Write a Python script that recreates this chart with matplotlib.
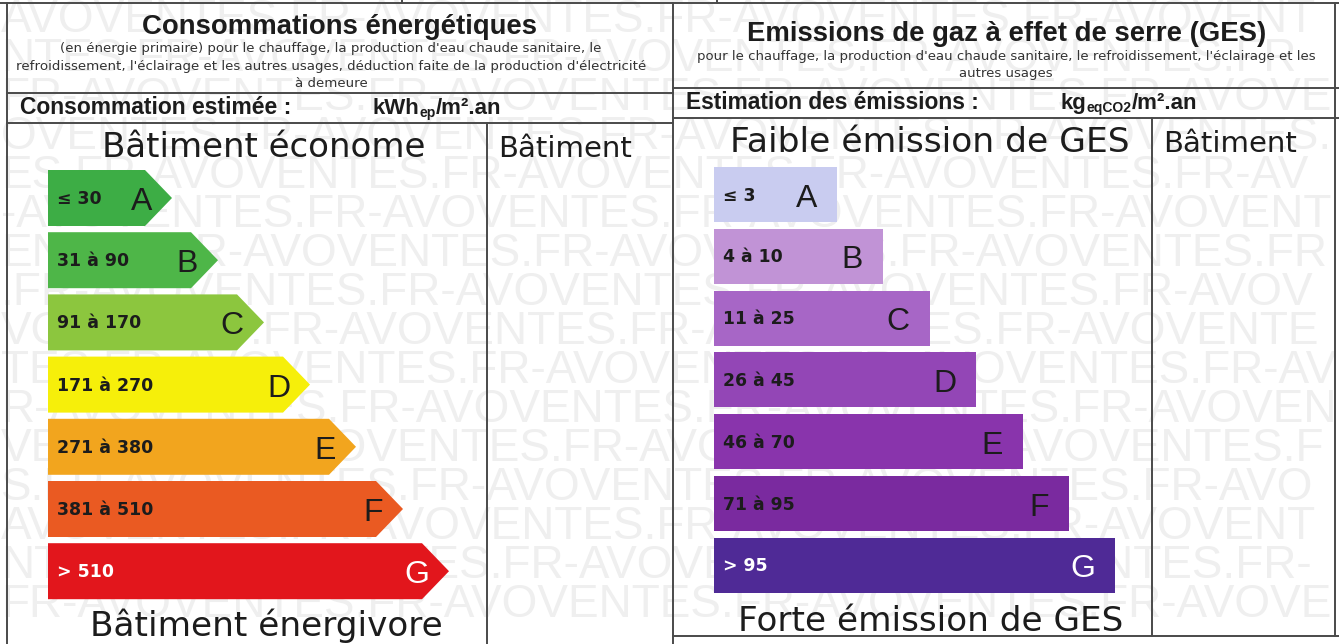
import matplotlib
matplotlib.use("Agg")
import matplotlib.pyplot as plt
from matplotlib.patches import Polygon, Rectangle

# ---------------- data ----------------
classes = ["A", "B", "C", "D", "E", "F", "G"]
energy_ranges = ["≤ 30", "31 à 90", "91 à 170", "171 à 270", "271 à 380", "381 à 510", "> 510"]
energy_lengths = [124, 170, 216, 262, 308, 355, 401]
energy_colors = ["#3dad45", "#4eb648", "#8cc63e", "#f6ef0a", "#f2a51e", "#ea5a22", "#e2161c"]

ges_ranges = ["≤ 3", "4 à 10", "11 à 25", "26 à 45", "46 à 70", "71 à 95", "> 95"]
ges_lengths = [123, 169, 216, 262, 309, 355, 401]
ges_colors = ["#c9ccf0", "#c193d6", "#a766c6", "#9346b6", "#8934ac", "#7a2a9f", "#4f2a96"]

watermark = "AVOVENTES.FR-"

W, H = 1339, 644
fig = plt.figure(figsize=(W / 100, H / 100), dpi=100)
ax = fig.add_axes([0, 0, 1, 1])
ax.set_xlim(0, W)
ax.set_ylim(H, 0)
ax.axis("off")

SANS = "Liberation Sans"
VERD = "DejaVu Sans"

fig.canvas.draw()
renderer = fig.canvas.get_renderer()
inv = ax.transData.inverted()

# ---------------- watermark ----------------
for k in range(16):
    y = 32 + 39 * k
    shift = (k * 5) % len(watermark)
    s = (watermark * 8)[shift:]
    t = ax.text(1, y, s, fontsize=33, family=SANS, color="#efefef",
                va="baseline", ha="left", zorder=0.5)
    while t.get_window_extent(renderer=renderer).x1 > W - 2:
        s = s[:-1]
        t.set_text(s)

# ---------------- frame lines ----------------
lc = "#4a4a4a"
lw = 1.4
ax.plot([0, W], [3, 3], color=lc, lw=lw, zorder=3)
ax.plot([402, 402], [0, 3], color=lc, lw=lw, zorder=3)
ax.plot([717, 717], [0, 3], color=lc, lw=lw, zorder=3)
ax.plot([7, 7], [3, H], color=lc, lw=lw, zorder=3)
ax.plot([673, 673], [3, H], color=lc, lw=lw, zorder=3)
ax.plot([1335, 1335], [3, 636], color=lc, lw=lw, zorder=3)
ax.plot([487, 487], [123, H], color=lc, lw=lw, zorder=3)
ax.plot([1152, 1152], [118, 636], color=lc, lw=lw, zorder=3)
ax.plot([7, 673], [93, 93], color=lc, lw=lw, zorder=3)
ax.plot([7, 673], [123, 123], color=lc, lw=lw, zorder=3)
ax.plot([673, W], [88, 88], color=lc, lw=lw, zorder=3)
ax.plot([673, W], [118, 118], color=lc, lw=lw, zorder=3)
ax.plot([673, W], [636, 636], color=lc, lw=lw, zorder=3)

txtc = "#1c1c1c"

# ---------------- headers ----------------
ax.text(340, 34, "Consommations énergétiques", fontsize=19.8, family=SANS,
        weight="bold", ha="center", va="baseline", color=txtc, zorder=4)
sub_left = ["(en énergie primaire) pour le chauffage, la production d'eau chaude sanitaire, le",
            "refroidissement, l'éclairage et les autres usages, déduction faite de la production d'électricité",
            "à demeure"]
for i, s in enumerate(sub_left):
    ax.text(331, 52 + 17.5 * i, s, fontsize=9.6, family=VERD, ha="center",
            va="baseline", color="#333333", zorder=4)

ax.text(1007, 41, "Emissions de gaz à effet de serre (GES)", fontsize=19.8, family=SANS,
        weight="bold", ha="center", va="baseline", color=txtc, zorder=4)
sub_right = ["pour le chauffage, la production d'eau chaude sanitaire, le refroidissement, l'éclairage et les",
             "autres usages"]
for i, s in enumerate(sub_right):
    ax.text(1006, 60 + 17 * i, s, fontsize=9.5, family=VERD, ha="center",
            va="baseline", color="#333333", zorder=4)

ax.text(20, 114, "Consommation estimée :", fontsize=16.5, family=SANS, weight="bold",
        ha="left", va="baseline", color=txtc, zorder=4)
ax.text(686, 109, "Estimation des émissions :", fontsize=16.4, family=SANS, weight="bold",
        ha="left", va="baseline", color=txtc, zorder=4)


def seq(x, y, parts):
    """parts: list of (text, size, dy)"""
    for s, size, dy in parts:
        t = ax.text(x, y + dy, s, fontsize=size, family=SANS, weight="bold",
                    ha="left", va="baseline", color=txtc, zorder=4)
        bb = t.get_window_extent(renderer=renderer)
        x = inv.transform((bb.x1, bb.y0))[0]


seq(373, 114, [("kWh", 16, 0), ("ep", 10, 3), ("/m².an", 16, 0)])
seq(1061, 109, [("kg", 16, 0), ("eqCO2", 10, 3), ("/m².an", 16, 0)])

# column headers
ax.text(264, 157, "Bâtiment économe", fontsize=24.5, family=VERD, ha="center",
        va="baseline", color=txtc, zorder=4)
ax.text(498, 157, "Bâtiment", fontsize=21, family=VERD, ha="left",
        va="baseline", color=txtc, zorder=4)
ax.text(266, 636, "Bâtiment énergivore", fontsize=24.7, family=VERD, ha="center",
        va="baseline", color=txtc, zorder=4)
ax.text(930, 152, "Faible émission de GES", fontsize=24.8, family=VERD, ha="center",
        va="baseline", color=txtc, zorder=4)
ax.text(1163, 152, "Bâtiment", fontsize=21, family=VERD, ha="left",
        va="baseline", color=txtc, zorder=4)
ax.text(931, 631, "Forte émission de GES", fontsize=24.7, family=VERD, ha="center",
        va="baseline", color=txtc, zorder=4)

# ---------------- energy arrows ----------------
x0, top0, pitch, h, tip = 48, 170, 62.2, 56, 27
for i, (cls, rng, L, c) in enumerate(zip(classes, energy_ranges, energy_lengths, energy_colors)):
    t = top0 + pitch * i
    b = t + h
    m = (t + b) / 2
    poly = Polygon([(x0, t), (x0 + L - tip, t), (x0 + L, m), (x0 + L - tip, b), (x0, b)],
                   closed=True, facecolor=c, edgecolor="none", zorder=2)
    ax.add_patch(poly)
    fc = "white" if cls == "G" else txtc
    ax.text(x0 + 9, m + 6, rng, fontsize=12.5, family=VERD, weight="bold",
            ha="left", va="baseline", color=fc, zorder=4)
    ax.text(x0 + L - 20, m + 12, cls, fontsize=23, family=SANS, ha="right",
            va="baseline", color=fc, zorder=4)

# ---------------- GES bars ----------------
gx0, gtop0, gpitch, gh = 714, 167, 61.8, 55
for i, (cls, rng, L, c) in enumerate(zip(classes, ges_ranges, ges_lengths, ges_colors)):
    t = gtop0 + gpitch * i
    m = t + gh / 2
    ax.add_patch(Rectangle((gx0, t), L, gh, facecolor=c, edgecolor="none", zorder=2))
    fc = "white" if cls == "G" else txtc
    ax.text(gx0 + 9, m + 6, rng, fontsize=12.4, family=VERD, weight="bold",
            ha="left", va="baseline", color=fc, zorder=4)
    ax.text(gx0 + L - 20, m + 12, cls, fontsize=23, family=SANS, ha="right",
            va="baseline", color=fc, zorder=4)

fig.savefig("out.png", dpi=100, facecolor="white")
